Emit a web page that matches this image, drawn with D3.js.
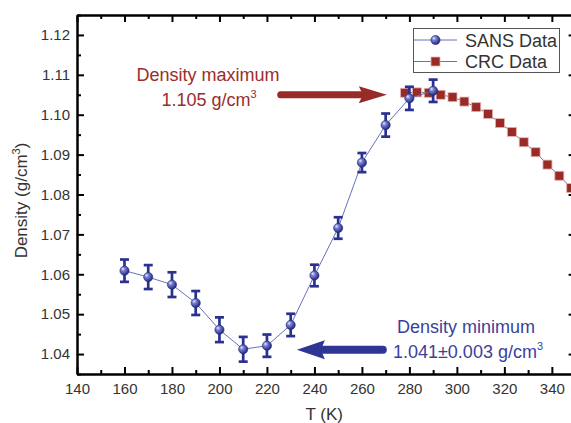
<!DOCTYPE html>
<html>
<head>
<meta charset="utf-8">
<script src="https://cdn.jsdelivr.net/npm/d3@7"></script>
<style>
  html, body { margin: 0; padding: 0; background: #fff; }
  svg { display: block; font-family: "Liberation Sans", Arial, sans-serif; }
</style>
</head>
<body>
<svg id="chart" width="571" height="423"></svg>
<script>
// SANS measurements: temperature (K), density (g/cm^3) and error
const sansT = [160, 170, 180, 190, 200, 210, 220, 230, 240, 250, 260, 270, 280, 290];
const sansDensity = [1.0609, 1.0593, 1.0574, 1.0528, 1.0461, 1.0412, 1.0421, 1.0473, 1.0597, 1.0716, 1.0880, 1.0974, 1.1041, 1.1060];
const sansError = [0.0028, 0.0030, 0.0031, 0.0030, 0.0031, 0.0031, 0.0028, 0.0028, 0.0027, 0.0027, 0.0024, 0.0029, 0.0029, 0.0028];

// CRC handbook reference densities
const crcT = [278.15, 283.15, 288.15, 293.15, 298.15, 303.15, 308.15, 313.15, 318.15, 323.15, 328.15, 333.15, 338.15, 343.15, 348.15];
const crcDensity = [1.1055, 1.1056, 1.1055, 1.1050, 1.1044, 1.1033, 1.1019, 1.1002, 1.0979, 1.0957, 1.0931, 1.0906, 1.0875, 1.0847, 1.0816];

// axis ticks
const xMajorTicks = [140, 160, 180, 200, 220, 240, 260, 280, 300, 320, 340];
const xMinorTicks = [150, 170, 190, 210, 230, 250, 270, 290, 310, 330, 350];
const yMajorTicks = [1.04, 1.05, 1.06, 1.07, 1.08, 1.09, 1.10, 1.11, 1.12];
const yMinorTicks = [1.035, 1.045, 1.055, 1.065, 1.075, 1.085, 1.095, 1.105, 1.115, 1.125];

// annotation arrows: tail and tip in data coordinates
const maxArrow = { x1: 225.8, x2: 270.5, y: 1.1050 };
const minArrow = { x1: 268.8, x2: 232.6, y: 1.0411 };

const svg = d3.select("#chart");
const plotLeft = 77, plotTop = 15, plotBottom = 374, plotRight = 575.6;

const x = d3.scaleLinear().domain([140, 350]).range([plotLeft, plotRight]);
const y = d3.scaleLinear().domain([1.035, 1.125]).range([plotBottom, plotTop]);

const blue = "#2b3190";
const red = "#982a27";
const tickColor = "#333";

// gradient for the spherical SANS markers
const defs = svg.append("defs");
const grad = defs.append("radialGradient").attr("id", "sphere")
  .attr("cx", "38%").attr("cy", "38%").attr("r", "62%").attr("fx", "32%").attr("fy", "30%");
grad.append("stop").attr("offset", "0%").attr("stop-color", "#e8ecff");
grad.append("stop").attr("offset", "35%").attr("stop-color", "#7a80d0");
grad.append("stop").attr("offset", "100%").attr("stop-color", "#22287e");

// ---------- axes ----------
function styleAxis(g) {
  g.select(".domain").attr("stroke", "#000").attr("stroke-width", 2);
  g.selectAll(".tick line").attr("stroke", "#000").attr("stroke-width", 2);
  g.selectAll(".tick text").attr("fill", tickColor).attr("font-size", 15);
}

// bottom
svg.append("g").attr("transform", `translate(0,${plotBottom})`)
  .call(d3.axisBottom(x).tickValues(xMajorTicks).tickSizeInner(-7).tickSizeOuter(0).tickPadding(9).tickFormat(d3.format("d")))
  .call(styleAxis);
svg.append("g").attr("transform", `translate(0,${plotBottom})`)
  .call(d3.axisBottom(x).tickValues(xMinorTicks).tickSizeInner(-4).tickSizeOuter(0).tickFormat(""))
  .call(styleAxis);
// top
svg.append("g").attr("transform", `translate(0,${plotTop})`)
  .call(d3.axisTop(x).tickValues(xMajorTicks).tickSizeInner(-7).tickSizeOuter(0).tickFormat(""))
  .call(styleAxis);
svg.append("g").attr("transform", `translate(0,${plotTop})`)
  .call(d3.axisTop(x).tickValues(xMinorTicks).tickSizeInner(-4).tickSizeOuter(0).tickFormat(""))
  .call(styleAxis);
// left
svg.append("g").attr("transform", `translate(${plotLeft},0)`)
  .call(d3.axisLeft(y).tickValues(yMajorTicks).tickSizeInner(-7).tickSizeOuter(0).tickPadding(7).tickFormat(d3.format(".2f")))
  .call(styleAxis);
svg.append("g").attr("transform", `translate(${plotLeft},0)`)
  .call(d3.axisLeft(y).tickValues(yMinorTicks).tickSizeInner(-4).tickSizeOuter(0).tickFormat(""))
  .call(styleAxis);
// right
svg.append("g").attr("transform", `translate(${plotRight},0)`)
  .call(d3.axisRight(y).tickValues(yMajorTicks).tickSizeInner(-7).tickSizeOuter(0).tickFormat(""))
  .call(styleAxis);
svg.append("g").attr("transform", `translate(${plotRight},0)`)
  .call(d3.axisRight(y).tickValues(yMinorTicks).tickSizeInner(-4).tickSizeOuter(0).tickFormat(""))
  .call(styleAxis);

// axis titles
svg.append("text").attr("x", (plotLeft + plotRight) / 2 - 2).attr("y", 420)
  .attr("text-anchor", "middle").attr("font-size", 17).attr("fill", tickColor)
  .text("T (K)");
const yTitle = svg.append("text")
  .attr("transform", `translate(27,${(plotTop + plotBottom) / 2 + 6}) rotate(-90)`)
  .attr("text-anchor", "middle").attr("font-size", 17).attr("fill", tickColor);
yTitle.append("tspan").text("Density (g/cm");
yTitle.append("tspan").attr("font-size", 11).attr("dy", -7).text("3");
yTitle.append("tspan").attr("dy", 7).text(")");

// ---------- CRC series ----------
const crc = crcT.map((t, i) => ({ t, d: crcDensity[i] }));
svg.append("path").datum(crc)
  .attr("fill", "none").attr("stroke", "#777").attr("stroke-width", 1)
  .attr("d", d3.line().x(d => x(d.t)).y(d => y(d.d)));
svg.selectAll(".crc").data(crc).enter().append("rect")
  .attr("x", d => x(d.t) - 4.5).attr("y", d => y(d.d) - 4.5)
  .attr("width", 9).attr("height", 9)
  .attr("fill", red).attr("stroke", "#e4b4b2").attr("stroke-width", 0.8);

// ---------- SANS series ----------
const sans = sansT.map((t, i) => ({ t, d: sansDensity[i], e: sansError[i] }));
svg.append("path").datum(sans)
  .attr("fill", "none").attr("stroke", "#6a70bc").attr("stroke-width", 1)
  .attr("d", d3.line().x(d => x(d.t)).y(d => y(d.d)));

const eb = svg.selectAll(".eb").data(sans).enter().append("g")
  .attr("stroke", blue).attr("stroke-width", 2.7).attr("fill", "none");
eb.append("line").attr("x1", d => x(d.t)).attr("x2", d => x(d.t))
  .attr("y1", d => y(d.d + d.e)).attr("y2", d => y(d.d - d.e));
eb.append("line").attr("x1", d => x(d.t) - 4.5).attr("x2", d => x(d.t) + 4.5)
  .attr("y1", d => y(d.d + d.e)).attr("y2", d => y(d.d + d.e));
eb.append("line").attr("x1", d => x(d.t) - 4.5).attr("x2", d => x(d.t) + 4.5)
  .attr("y1", d => y(d.d - d.e)).attr("y2", d => y(d.d - d.e));

svg.selectAll(".sans").data(sans).enter().append("circle")
  .attr("cx", d => x(d.t)).attr("cy", d => y(d.d)).attr("r", 4.6)
  .attr("fill", "url(#sphere)").attr("stroke", "#22287e").attr("stroke-width", 0.6);

// ---------- annotations ----------
function arrow(a, color, shaft, headLen, headW) {
  const x1 = x(a.x1), x2 = x(a.x2), yy = y(a.y);
  const dir = x2 > x1 ? 1 : -1;
  const hb = x2 - dir * headLen;
  svg.append("line").attr("x1", x1).attr("x2", hb + dir * 2).attr("y1", yy).attr("y2", yy)
    .attr("stroke", color).attr("stroke-width", shaft).attr("stroke-linecap", "round");
  svg.append("path")
    .attr("d", `M${x2},${yy} L${hb},${yy - headW / 2} L${hb + dir * 4},${yy} L${hb},${yy + headW / 2} Z`)
    .attr("fill", color);
}
arrow(maxArrow, red, 7, 28, 17);
arrow(minArrow, "#2e3595", 8, 28, 19);

const maxText = svg.append("g").attr("fill", "#9b2d2a").attr("font-size", 18).attr("text-anchor", "middle");
maxText.append("text").attr("x", 208).attr("y", 81).text("Density maximum");
const maxVal = maxText.append("text").attr("x", 209).attr("y", 106);
maxVal.append("tspan").text("1.105 g/cm");
maxVal.append("tspan").attr("font-size", 11).attr("dy", -8).text("3");

const minText = svg.append("g").attr("fill", "#3a3f9c").attr("font-size", 18).attr("text-anchor", "middle");
minText.append("text").attr("x", 466).attr("y", 333).text("Density minimum");
const minVal = minText.append("text").attr("x", 468).attr("y", 358);
minVal.append("tspan").text("1.041±0.003 g/cm");
minVal.append("tspan").attr("font-size", 11).attr("dy", -8).text("3");

// ---------- legend ----------
const lg = svg.append("g");
lg.append("rect").attr("x", 413.5).attr("y", 28.5).attr("width", 146).attr("height", 44)
  .attr("fill", "#fff").attr("stroke", "#555").attr("stroke-width", 1);
lg.append("line").attr("x1", 414).attr("x2", 457).attr("y1", 40).attr("y2", 40)
  .attr("stroke", "#6a70bc").attr("stroke-width", 1);
lg.append("circle").attr("cx", 435.5).attr("cy", 40).attr("r", 4.6)
  .attr("fill", "url(#sphere)").attr("stroke", "#22287e").attr("stroke-width", 0.6);
lg.append("line").attr("x1", 414).attr("x2", 457).attr("y1", 61.5).attr("y2", 61.5)
  .attr("stroke", "#777").attr("stroke-width", 1);
lg.append("rect").attr("x", 431).attr("y", 57).attr("width", 9).attr("height", 9)
  .attr("fill", red).attr("stroke", "#e4b4b2").attr("stroke-width", 0.8);
lg.append("text").attr("x", 465).attr("y", 46.5).attr("font-size", 18).attr("fill", tickColor).text("SANS Data");
lg.append("text").attr("x", 465).attr("y", 68).attr("font-size", 18).attr("fill", tickColor).text("CRC Data");
</script>
</body>
</html>
